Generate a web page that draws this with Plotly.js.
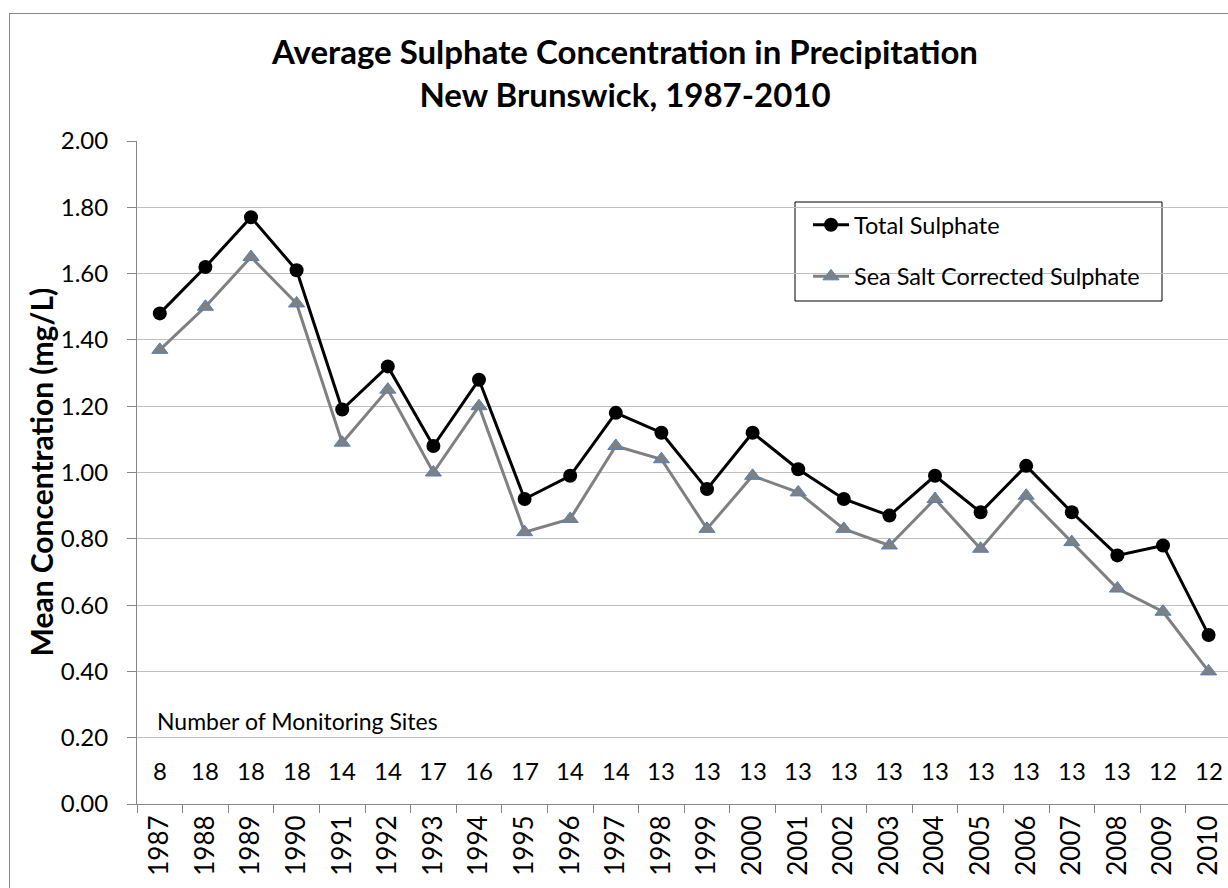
<!DOCTYPE html>
<html>
<head>
<meta charset="utf-8">
<script src="https://cdn.plot.ly/plotly-3.0.1.min.js"></script>
<style>
  html, body { margin: 0; padding: 0; background: #fff; overflow: hidden; }
  #wrap { position: relative; width: 1228px; height: 888px; }
  #frame { position: absolute; left: 9px; top: 13px; width: 1300px; height: 1000px; border: 1px solid #868686; box-sizing: border-box; pointer-events: none; z-index: 5; }
  #chart { position: absolute; left: 0; top: 0; width: 1228px; height: 888px; }
</style>
</head>
<body>
<div id="wrap">
  <div id="chart"></div>
  <div id="frame"></div>
</div>
<script>
const years = ["1987","1988","1989","1990","1991","1992","1993","1994","1995","1996","1997","1998","1999","2000","2001","2002","2003","2004","2005","2006","2007","2008","2009","2010"];
const totalSulphate = [1.48,1.62,1.77,1.61,1.19,1.32,1.08,1.28,0.92,0.99,1.18,1.12,0.95,1.12,1.01,0.92,0.87,0.99,0.88,1.02,0.88,0.75,0.78,0.51];
const seaSaltCorrected = [1.37,1.50,1.65,1.51,1.09,1.25,1.00,1.20,0.82,0.86,1.08,1.04,0.83,0.99,0.94,0.83,0.78,0.92,0.77,0.93,0.79,0.65,0.58,0.40];
const monitoringSites = [8,18,18,18,14,14,17,16,17,14,14,13,13,13,13,13,13,13,13,13,13,13,12,12];
const yTicks = [0,0.2,0.4,0.6,0.8,1.0,1.2,1.4,1.6,1.8,2.0];

const FONT = 'Lato, "Open Sans", sans-serif';
const W = 1228, H = 888, L = 137, T = 141, B = 84, R = 0;
const pw = W - L - R, ph = H - T - B;
const px = v => (v - L) / pw;
const py = v => (H - B - v) / ph;

const traces = [
  {
    x: years, y: totalSulphate, type: 'scatter', mode: 'lines+markers',
    name: 'Total Sulphate', legendgroup: 'a',
    line: {color: '#000000', width: 3},
    marker: {symbol: 'circle', size: 14, color: '#000000'}
  },
  {
    x: years, y: seaSaltCorrected, type: 'scatter', mode: 'lines+markers',
    name: 'Sea Salt Corrected Sulphate', legendgroup: 'b',
    line: {color: '#808080', width: 3},
    marker: {symbol: 'triangle-up', size: 14, color: '#808080', line: {color: '#4f81bd', width: 1}}
  }
];

const annotations = [
  {
    text: 'Mean Concentration (mg/L)', xref: 'paper', yref: 'paper',
    x: px(40), y: 0.5, textangle: -90, showarrow: false,
    xanchor: 'center', yanchor: 'middle',
    font: {family: FONT, size: 30, color: '#000', weight: 'bold'}
  },
  {
    text: 'Number of Monitoring Sites', xref: 'paper', yref: 'y',
    x: px(155), y: 0.25, showarrow: false, xanchor: 'left', yanchor: 'middle',
    font: {family: FONT, size: 23, color: '#000'}
  }
];
monitoringSites.forEach((n, i) => {
  annotations.push({
    text: String(n), xref: 'x', yref: 'y', x: i, y: 0.10,
    showarrow: false, xanchor: 'center', yanchor: 'middle',
    font: {family: FONT, size: 24, color: '#000'}
  });
});

const layout = {
  width: W, height: H,
  margin: {l: L, r: R, t: T, b: B, pad: 0},
  paper_bgcolor: '#ffffff', plot_bgcolor: '#ffffff',
  font: {family: FONT, color: '#000'},
  title: {
    text: 'Average Sulphate Concentration in Precipitation<br>New Brunswick, 1987-2010',
    xref: 'container', yref: 'container', x: 625 / W, y: 1 - 64 / H,
    xanchor: 'center', yanchor: 'middle',
    font: {family: FONT, size: 33, color: '#000', weight: 'bold'}
  },
  xaxis: {
    type: 'category', range: [-0.5, -0.5 + pw / 45.6],
    showgrid: false, zeroline: false,
    showline: true, linecolor: '#868686', linewidth: 1,
    ticks: 'outside', tickson: 'boundaries', ticklen: 8, tickcolor: '#868686',
    tickangle: -90, tickfont: {family: FONT, size: 26, color: '#000'},
    fixedrange: true
  },
  yaxis: {
    range: [0, 2], tickvals: yTicks, tickformat: '.2f',
    showgrid: true, gridcolor: '#c0c0c0', gridwidth: 1, zeroline: false,
    showline: true, linecolor: '#868686', linewidth: 1,
    ticks: 'outside', ticklen: 9, tickcolor: '#868686',
    ticklabelstandoff: 14,
    tickfont: {family: FONT, size: 24, color: '#000'},
    fixedrange: true
  },
  showlegend: true,
  legend: {
    x: px(808), y: py(203), xanchor: 'left', yanchor: 'top',
    bgcolor: 'rgba(0,0,0,0)', borderwidth: 0,
    font: {family: FONT, size: 23.5, color: '#000'},
    tracegroupgap: 18, traceorder: 'grouped', itemwidth: 36
  },
  shapes: [
    {
      type: 'rect', xref: 'paper', yref: 'paper',
      x0: px(795), x1: px(1162), y0: py(202), y1: py(301),
      line: {color: '#000', width: 1}, fillcolor: 'rgba(255,255,255,1)', layer: 'below'
    }
  ],
  annotations: annotations
};

Plotly.newPlot('chart', traces, layout, {displayModeBar: false, staticPlot: true});
</script>
</body>
</html>
